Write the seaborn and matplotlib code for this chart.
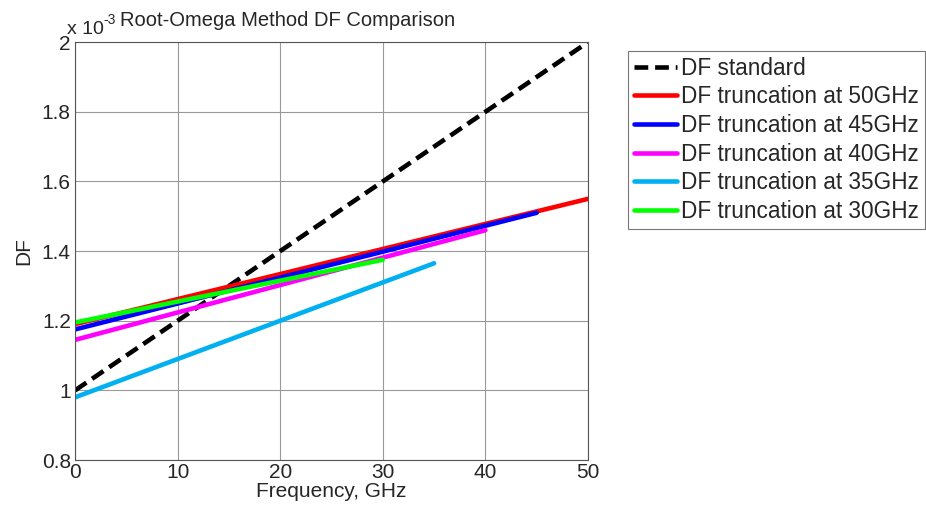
import numpy as np
import pandas as pd
import matplotlib
matplotlib.use("Agg")
import matplotlib.pyplot as plt
from matplotlib.ticker import FuncFormatter
import seaborn as sns

# DF values in units of 1e-3 (linear segments: start / end)
labels = ["DF standard", "DF truncation at 50GHz", "DF truncation at 45GHz",
          "DF truncation at 40GHz", "DF truncation at 35GHz", "DF truncation at 30GHz"]
f_start = [0, 0, 0, 0, 0, 0]
f_end = [50, 50, 45, 40, 35, 30]
df_start = [1.00, 1.19, 1.175, 1.145, 0.98, 1.195]
df_end = [2.00, 1.55, 1.51, 1.46, 1.365, 1.375]
colors = ["black", "#ff0000", "#0000ff", "#ff00ff", "#00b0f0", "#00ff00"]

rows = []
for lab, f0, f1, d0, d1 in zip(labels, f_start, f_end, df_start, df_end):
    rows.append({"series": lab, "freq": f0, "df": d0})
    rows.append({"series": lab, "freq": f1, "df": d1})
data = pd.DataFrame(rows)

sns.set_style("white")
plt.rcParams["font.family"] = ["Liberation Sans", "DejaVu Sans"]

fig = plt.figure(figsize=(9.26, 5.14), dpi=100)
ax = fig.add_axes([0.081, 0.105, 0.554, 0.813])

for lab, col in zip(labels, colors):
    sub = data[data["series"] == lab]
    ls = (0, (3, 1.5)) if lab == "DF standard" else "-"
    sns.lineplot(data=sub, x="freq", y="df", ax=ax, color=col, linewidth=3.3,
                 linestyle=ls, label=lab, legend=False)

ax.set_xlim(0, 50)
ax.set_ylim(0.8, 2.0)
ax.set_xticks([0, 10, 20, 30, 40, 50])
ax.set_yticks([0.8, 1.0, 1.2, 1.4, 1.6, 1.8, 2.0])
ax.yaxis.set_major_formatter(FuncFormatter(lambda v, p: f"{v:g}"))
ax.grid(True, color="#999999", linewidth=0.8)
ax.tick_params(direction="in", labelsize=15, length=4, pad=2)
ax.tick_params(axis="y", pad=3)
for s in ax.spines.values():
    s.set_color("#555555")
    s.set_linewidth(0.8)

ax.set_xlabel("Frequency, GHz", fontsize=15, labelpad=0)
ax.set_ylabel("DF", fontsize=15, labelpad=6)
fig.text(120 / 926, 1 - 30 / 514, "Root-Omega Method DF Comparison",
         fontsize=14.5, ha="left", va="bottom")
# scale marker "x 10^-3" drawn as two pieces, MATLAB style
fig.text(67 / 926, 1 - 38 / 514, "x 10", fontsize=14, ha="left", va="bottom")
fig.text(103 / 926, 1 - 27 / 514, "-3", fontsize=10, ha="left", va="bottom")

handles, labs = ax.get_legend_handles_labels()
leg = fig.legend(handles, labs, loc="upper left", bbox_to_anchor=(628 / 926, 1 - 51 / 514),
                 fontsize=16.3, frameon=True, fancybox=False, handlelength=1.9,
                 handletextpad=0.2, labelspacing=0.25, borderpad=0.25,
                 borderaxespad=0)
leg.get_frame().set_edgecolor("#555555")
leg.get_frame().set_linewidth(0.8)

fig.savefig("out.png", dpi=100, facecolor="white")
